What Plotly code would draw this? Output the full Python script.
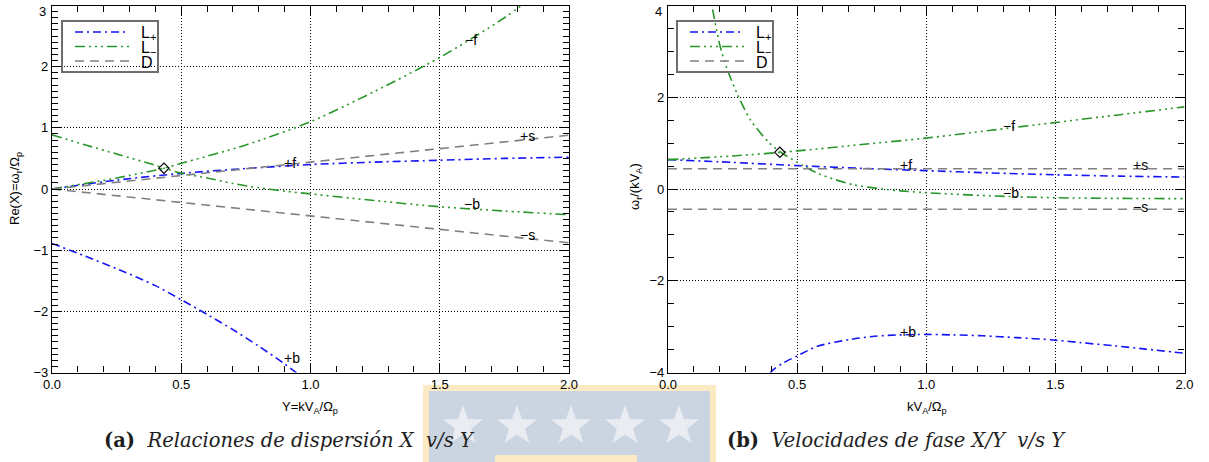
import math
import plotly.graph_objects as go

W, H = 1209, 462

# ---------------- data ----------------
# Left panel: X = w_r/Omega_p vs Y = k V_A / Omega_p
Y_pf = [0, 0.25, 0.5, 0.75, 1.0, 1.25, 1.5, 1.75, 2.0]
X_pf = [0, 0.145, 0.255, 0.335, 0.40, 0.44, 0.47, 0.50, 0.52]

Y_pb = [0, 0.13, 0.26, 0.4, 0.5, 0.6, 0.7, 0.8, 0.9, 1.0]
X_pb = [-0.89, -1.10, -1.32, -1.58, -1.81, -2.05, -2.30, -2.57, -2.86, -3.18]

Y_mf = [0, 0.25, 0.433, 0.5, 0.75, 1.0, 1.25, 1.5, 1.75, 2.0]
X_mf = [0, 0.18, 0.34, 0.42, 0.72, 1.10, 1.60, 2.15, 2.80, 3.58]

Y_mb = [0, 0.13, 0.26, 0.39, 0.433, 0.5, 0.6, 0.7, 0.8, 0.9, 1.0, 1.25, 1.5, 1.75, 2.0]
X_mb = [0.885, 0.72, 0.56, 0.40, 0.34, 0.26, 0.18, 0.09, 0.02, -0.035, -0.08, -0.19, -0.29, -0.36, -0.42]

Y_d = [0, 2.0]
X_dp = [0, 0.88]
X_dm = [0, -0.88]

# Right panel: X/Y = w_r/(k V_A) vs Y
R_Y_pf = [0, 0.25, 0.5, 0.75, 1.0, 1.25, 1.5, 1.75, 2.0]
R_pf = [0.64, 0.58, 0.51, 0.45, 0.40, 0.35, 0.31, 0.28, 0.26]

R_Y_pb = [0.36, 0.4, 0.45, 0.5, 0.578, 0.706, 0.8, 0.9, 1.0, 1.1, 1.22, 1.35, 1.49, 1.6, 1.73, 1.85, 2.0]
R_pb = [-4.35, -3.98, -3.78, -3.64, -3.43, -3.28, -3.21, -3.18, -3.17, -3.18, -3.20, -3.24, -3.29, -3.35, -3.42, -3.49, -3.58]

R_Y_mf = [0, 0.25, 0.5, 0.75, 1.0, 1.25, 1.5, 1.75, 2.0]
R_mf = [0.64, 0.72, 0.83, 0.97, 1.11, 1.28, 1.45, 1.62, 1.79]

R_Y_mb = [0.15, 0.17, 0.2, 0.23, 0.27, 0.32, 0.39, 0.44, 0.52, 0.58, 0.65, 0.72, 0.83, 0.9, 1.0, 1.25, 1.5, 1.75, 2.0]
R_mb = [4.6, 4.0, 3.15, 2.6, 2.05, 1.5, 1.02, 0.79, 0.52, 0.34, 0.20, 0.09, 0.0, -0.04, -0.08, -0.15, -0.19, -0.205, -0.21]

R_Y_d = [0, 2.0]
R_dp = [0.44, 0.44]
R_dm = [-0.44, -0.44]

# crossing point (diamond)
cross_Y = [0.433]
cross_X = [0.34]
cross_R = [0.80]

# tick values / labels for the y axes (top label drawn just inside the frame)
left_yticks = [-3, -2, -1, 0, 1, 2, 3]
left_ylabels = ["\u22123", "\u22122", "\u22121", "0", "1", "2", ""]
right_yticks = [-4, -2, 0, 2, 4]
right_ylabels = ["\u22124", "\u22122", "0", "2", ""]
top_label_left = "3"
top_label_right = "4"

# curve labels: (text, Y, value)
labels_left = [("\u2212f", 1.62, 2.43), ("+s", 1.84, 0.87), ("+f", 0.92, 0.42),
               ("\u2212b", 1.625, -0.25), ("\u2212s", 1.84, -0.75), ("+b", 0.93, -2.76)]
labels_right = [("\u2212f", 1.32, 1.37), ("+f", 0.92, 0.52), ("+s", 1.83, 0.53),
                ("\u2212b", 1.33, -0.09), ("\u2212s", 1.83, -0.39), ("+b", 0.93, -3.12)]

legend_names = ["L<sub>+</sub>", "L<sub>\u2212</sub>", "D"]

# ---------------- styling ----------------
BLUE = "rgb(20,20,245)"
GREEN = "rgb(40,150,40)"
GRAY = "rgb(128,128,128)"
DASH_P = "8px,4px,2px,4px"
DASH_M = "10px,4px,2px,4px,2px,4px,2px,4px"
DASH_D = "9px,6px"
LW = 1.6
FONT = "Liberation Sans, Arial, sans-serif"


def px(x):
    return x / W


def py(y):
    return 1 - y / H


fig = go.Figure()


def line(xs, ys, color, dash, name, xa, ya):
    fig.add_trace(go.Scatter(
        x=xs, y=ys, mode="lines", name=name, showlegend=False,
        line=dict(color=color, dash=dash, width=LW, shape="spline", smoothing=0.8),
        xaxis=xa, yaxis=ya, hoverinfo="skip"))


# left panel
line(Y_pf, X_pf, BLUE, DASH_P, legend_names[0], "x", "y")
line(Y_pb, X_pb, BLUE, DASH_P, legend_names[0], "x", "y")
line(Y_mf, X_mf, GREEN, DASH_M, legend_names[1], "x", "y")
line(Y_mb, X_mb, GREEN, DASH_M, legend_names[1], "x", "y")
line(Y_d, X_dp, GRAY, DASH_D, legend_names[2], "x", "y")
line(Y_d, X_dm, GRAY, DASH_D, legend_names[2], "x", "y")
fig.add_trace(go.Scatter(x=cross_Y, y=cross_X, mode="markers", showlegend=False,
                         marker=dict(symbol="diamond-open", size=8, color="black",
                                     line=dict(width=1.2, color="black")),
                         xaxis="x", yaxis="y"))

# right panel
line(R_Y_pf, R_pf, BLUE, DASH_P, legend_names[0], "x2", "y2")
line(R_Y_pb, R_pb, BLUE, DASH_P, legend_names[0], "x2", "y2")
line(R_Y_mf, R_mf, GREEN, DASH_M, legend_names[1], "x2", "y2")
line(R_Y_mb, R_mb, GREEN, DASH_M, legend_names[1], "x2", "y2")
line(R_Y_d, R_dp, GRAY, DASH_D, legend_names[2], "x2", "y2")
line(R_Y_d, R_dm, GRAY, DASH_D, legend_names[2], "x2", "y2")
fig.add_trace(go.Scatter(x=cross_Y, y=cross_R, mode="markers", showlegend=False,
                         marker=dict(symbol="diamond-open", size=8, color="black",
                                     line=dict(width=1.2, color="black")),
                         xaxis="x2", yaxis="y2"))

ydom = [py(372.5), py(5.5)]


def axis(domain, rng, minor, anchor, dtick=None, fmt=None, tickvals=None, ticktext=None):
    d = dict(domain=domain, range=rng, ticks="inside", ticklen=9,
             tickwidth=1, tickcolor="black", mirror="allticks", showline=True,
             linecolor="black", linewidth=1.3, showgrid=True, gridcolor="black",
             griddash="1px,2px", gridwidth=1, zeroline=False, anchor=anchor,
             ticklabeloverflow="allow",
             tickfont=dict(family=FONT, size=13, color="black"),
             minor=dict(tickmode="linear", dtick=minor, tick0=0, ticks="inside", ticklen=6,
                        tickwidth=1, tickcolor="black", showgrid=False))
    if tickvals is not None:
        d.update(tickmode="array", tickvals=tickvals, ticktext=ticktext)
    else:
        d.update(tickmode="linear", dtick=dtick, tick0=0)
    if fmt:
        d["tickformat"] = fmt
    return d


fig.update_layout(
    width=W, height=H,
    margin=dict(l=0, r=0, t=0, b=0, autoexpand=False),
    paper_bgcolor="white", plot_bgcolor="rgba(0,0,0,0)",
    xaxis=axis([px(52), px(569)], [0, 2], 0.1, "y", dtick=0.5, fmt=".1f"),
    yaxis=axis(ydom, [-3, 3], 0.1, "x", tickvals=left_yticks, ticktext=left_ylabels),
    xaxis2=axis([px(668), px(1184.5)], [0, 2], 0.1, "y2", dtick=0.5, fmt=".1f"),
    yaxis2=axis(ydom, [-4, 4], 0.5, "x2", tickvals=right_yticks, ticktext=right_ylabels),
    showlegend=False,
)

ann = []
lfont = dict(family=FONT, size=14, color="black")
for t, xv, yv in labels_left:
    ann.append(dict(text=t, x=xv, y=yv, xref="x", yref="y", showarrow=False,
                    xanchor="center", yanchor="middle", font=lfont))
for t, xv, yv in labels_right:
    ann.append(dict(text=t, x=xv, y=yv, xref="x2", yref="y2", showarrow=False,
                    xanchor="center", yanchor="middle", font=lfont))


def pann(text, x, y, font, angle=0, xanchor="center"):
    ann.append(dict(text=text, x=px(x), y=py(y), xref="paper", yref="paper",
                    showarrow=False, xanchor=xanchor, yanchor="middle",
                    textangle=angle, font=font))


# top y tick labels, kept inside the figure
tkfont = dict(family=FONT, size=13, color="black")
pann(top_label_left, 48, 11, tkfont, xanchor="right")
pann(top_label_right, 664, 11, tkfont, xanchor="right")

# axis titles
tfont = dict(family=FONT, size=13, color="black")
pann("Y=kV<sub>A</sub>/\u03a9<sub>p</sub>", 310, 407, tfont)
pann("kV<sub>A</sub>/\u03a9<sub>p</sub>", 927, 407, tfont)
pann("Re(X)=\u03c9<sub>r</sub>/\u03a9<sub>p</sub>", 15, 189, tfont, -90)
pann("\u03c9<sub>r</sub>/(kV<sub>A</sub>)", 635, 187, tfont, -90)

# captions
cfont = dict(family="DejaVu Serif, Liberation Serif, serif", size=19.5, color="rgb(30,30,30)")
pann("<b>(a)</b>  <i>Relaciones de dispersión X  v/s Y</i>", 289, 440, cfont)
pann("<b>(b)</b>  <i>Velocidades de fase X/Y  v/s Y</i>", 896, 440, cfont)

shapes = []

# legends (outline box, line samples and labels)
styles = [(BLUE, DASH_P), (GREEN, DASH_M), (GRAY, DASH_D)]
rows = [32, 46.5, 61]
for bx in [62, 677]:
    shapes.append(dict(type="rect", xref="paper", yref="paper", x0=px(bx), x1=px(bx + 96),
                       y0=py(72), y1=py(21), fillcolor="rgba(0,0,0,0)",
                       line=dict(color="rgb(110,110,110)", width=2), layer="above"))
    for (col, dsh), ry, nm in zip(styles, rows, legend_names):
        shapes.append(dict(type="line", xref="paper", yref="paper", x0=px(bx + 13),
                           x1=px(bx + 67), y0=py(ry), y1=py(ry),
                           line=dict(color=col, dash=dsh, width=LW), layer="above"))
        ann.append(dict(text=nm, x=px(bx + 77), y=py(ry + 1.5), xref="paper", yref="paper",
                        showarrow=False, xanchor="left", yanchor="middle",
                        font=dict(family=FONT, size=16, color="black")))

# watermark logo (decoration behind the captions)
shapes.append(dict(type="rect", xref="paper", yref="paper", x0=px(423), x1=px(716),
                   y0=py(462), y1=py(385), fillcolor="rgb(252,234,196)", line=dict(width=0),
                   layer="below"))
shapes.append(dict(type="rect", xref="paper", yref="paper", x0=px(429), x1=px(710),
                   y0=py(462), y1=py(391), fillcolor="rgb(203,213,226)", line=dict(width=0),
                   layer="below"))
shapes.append(dict(type="rect", xref="paper", yref="paper", x0=px(495), x1=px(637),
                   y0=py(462), y1=py(455), fillcolor="rgb(252,234,196)", line=dict(width=0),
                   layer="below"))
for cx in [463, 517, 571, 625, 679]:
    cy, ro, ri = 426, 21, 8.5
    pts = []
    for k in range(10):
        r = ro if k % 2 == 0 else ri
        a = -math.pi / 2 + k * math.pi / 5
        pts.append((px(cx + r * math.cos(a)), py(cy + r * math.sin(a))))
    path = "M " + " L ".join(f"{a:.5f},{b:.5f}" for a, b in pts) + " Z"
    shapes.append(dict(type="path", xref="paper", yref="paper", path=path,
                       fillcolor="rgb(233,236,241)", line=dict(width=0), layer="below"))

fig.update_layout(annotations=ann, shapes=shapes)

fig.write_html("out.html")
